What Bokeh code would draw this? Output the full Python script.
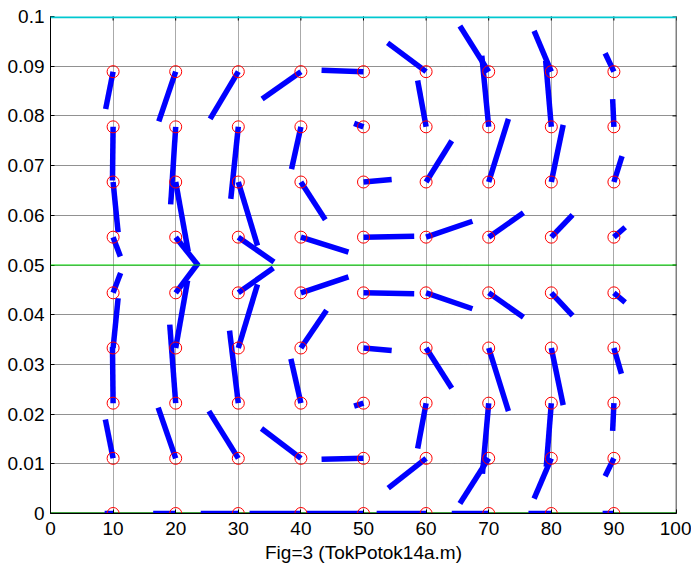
import math
from bokeh.plotting import figure
from bokeh.models import Range1d, FixedTicker, Span, ColumnDataSource
from bokeh.embed import file_html
from bokeh.resources import INLINE

# ---- data ----
x_nodes = [10, 20, 30, 40, 50, 60, 70, 80, 90]
y_nodes = [0.0, 0.0111, 0.0222, 0.0333, 0.0444, 0.0556, 0.0667, 0.0778, 0.0889]

# vector components per row (row index matches y_nodes), one value per x node
dx_rows = [
    [-1.35, -3.6, -6.0, -8.2, -9.1, -7.9, -5.9, -3.65, -1.8],
    [-1.24, -2.8, -4.7, -6.3, -6.7, -6.05, -4.6, -2.75, -1.4],
    [-0.1, -0.95, -1.4, -1.6, -1.5, -1.35, -1.0, -0.8, -0.2],
    [0.8, 1.9, 3.07, 4.1, 4.5, 4.1, 3.15, 1.9, 1.2],
    [1.2, 3.6, 5.6, 7.6, 8.1, 7.4, 5.55, 3.4, 1.8],
    [1.16, 3.6, 5.7, 7.6, 8.1, 7.4, 5.55, 3.4, 1.8],
    [0.8, 2.0, 3.07, 3.9, 4.5, 4.1, 3.15, 1.9, 1.3],
    [-0.1, -0.8, -1.2, -1.5, -1.5, -1.35, -1.1, -0.9, -0.2],
    [-1.19, -2.7, -4.5, -6.2, -6.7, -6.15, -4.6, -2.75, -1.4],
]
dy_rows = [
    [0, 0, 0, 0, 0, 0, 0, 0, 0],
    [0.0078, 0.0102, 0.0095, 0.006, -0.0002, -0.006, -0.0091, -0.0081, -0.0036],
    [0.0113, 0.0158, 0.0146, 0.0089, -0.0006, -0.0091, -0.0142, -0.0128, -0.0056],
    [0.010, 0.0136, 0.0128, 0.0076, -0.0005, -0.0081, -0.0127, -0.0115, -0.0052],
    [0.004, 0.006, 0.005, 0.0032, -0.0002, -0.0032, -0.0049, -0.0046, -0.0019],
    [-0.0039, -0.0057, -0.005, -0.003, 0.0002, 0.0032, 0.0049, 0.0045, 0.002],
    [-0.0101, -0.014, -0.0128, -0.0076, 0.0005, 0.0083, 0.0127, 0.0115, 0.0052],
    [-0.0108, -0.0156, -0.0145, -0.0085, 0.0007, 0.0093, 0.0143, 0.0133, 0.0056],
    [-0.0075, -0.010, -0.0095, -0.0055, 0.0003, 0.0058, 0.0092, 0.0082, 0.0037],
]

x_ticks = [0, 10, 20, 30, 40, 50, 60, 70, 80, 90, 100]
y_ticks = [0, 0.01, 0.02, 0.03, 0.04, 0.05, 0.06, 0.07, 0.08, 0.09, 0.1]
y_tick_labels = ["0", "0.01", "0.02", "0.03", "0.04", "0.05", "0.06", "0.07", "0.08", "0.09", "0.1"]
x_label = "Fig=3 (TokPotok14a.m)"
mid_line_y = 0.05
top_line_y = 0.1
bottom_line_y = 0.0
x_min, x_max = 0, 100
y_min, y_max = 0, 0.1

# ---- build segments ----
x0, y0, x1, y1 = [], [], [], []
for j, yv in enumerate(y_nodes):
    for i, xv in enumerate(x_nodes):
        x0.append(xv)
        y0.append(yv)
        x1.append(xv + dx_rows[j][i])
        y1.append(yv + dy_rows[j][i])
seg_src = ColumnDataSource(dict(x0=x0, y0=y0, x1=x1, y1=y1))

FONT = "Liberation Sans"

p = figure(width=691, height=565, x_range=Range1d(x_min, x_max), y_range=Range1d(y_min, y_max),
           output_backend="svg", toolbar_location=None,
           min_border_left=50, min_border_right=15, min_border_top=16, min_border_bottom=52,
           x_axis_label=x_label)
p.outline_line_color = None
p.background_fill_color = "white"
p.border_fill_color = "white"

# grid
p.xgrid.ticker = FixedTicker(ticks=x_ticks)
p.ygrid.ticker = FixedTicker(ticks=y_ticks)
p.xgrid.grid_line_color = "#555555"
p.xgrid.grid_line_dash = "1 1"
p.ygrid.grid_line_color = "#222222"
p.ygrid.grid_line_dash = "1 1"

# axes
xa = p.xaxis[0]
ya = p.yaxis[0]
xa.ticker = FixedTicker(ticks=x_ticks)
ya.ticker = FixedTicker(ticks=y_ticks)
ya.major_label_overrides = {t: s for t, s in zip(y_ticks, y_tick_labels)}
for ax in (xa, ya):
    ax.major_tick_in = 4
    ax.major_tick_out = 0
    ax.minor_tick_line_color = None
    ax.axis_line_color = "black"
    ax.major_tick_line_color = "black"
    ax.major_label_text_font = FONT
    ax.major_label_text_font_size = "19px"
    ax.major_label_text_color = "black"
xa.major_label_standoff = 8
ya.major_label_standoff = 6
xa.axis_label_text_font = FONT
xa.axis_label_text_font_size = "19px"
xa.axis_label_text_font_style = "normal"
xa.axis_label_text_color = "black"
xa.axis_label_standoff = 4

# right frame edge
p.add_layout(Span(location=x_max, dimension="height", line_color="black", line_width=1.5))

# inward tick marks on the top and right edges (half of each dash is clipped by the frame)
p.scatter(x=x_ticks, y=[y_max] * len(x_ticks), marker="dash", size=8, angle=math.pi / 2,
          line_color="black", line_width=1)
p.scatter(x=[x_max] * len(y_ticks), y=y_ticks, marker="dash", size=8,
          line_color="black", line_width=1)

# bottom reference line below the vectors
p.add_layout(Span(location=bottom_line_y, dimension="width", line_color="#008000",
                  line_width=2.5, level="underlay"))

# vectors and nodes
p.segment(x0="x0", y0="y0", x1="x1", y1="y1", source=seg_src,
          line_color="#0000ff", line_width=5.5, line_cap="butt")
p.scatter(x="x0", y="y0", source=seg_src, marker="circle", size=12,
          fill_color=None, line_color="#ff0000", line_width=1)

# reference lines
p.add_layout(Span(location=mid_line_y, dimension="width", line_color="#00e000", line_width=1.2))
p.add_layout(Span(location=top_line_y, dimension="width", line_color="#00c8d0", line_width=3.5))

open("out.html", "w").write(file_html(p, INLINE))
